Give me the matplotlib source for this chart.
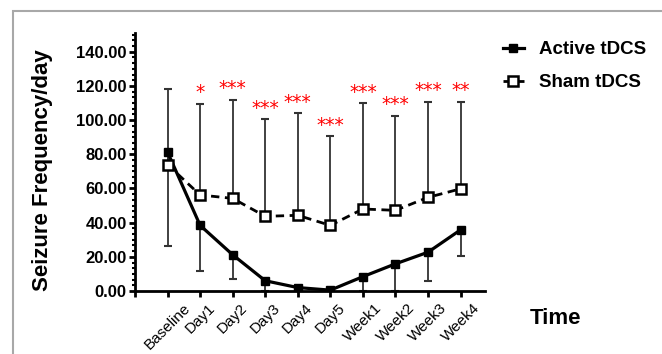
import matplotlib
matplotlib.use("Agg")
import matplotlib.pyplot as plt
from matplotlib.ticker import MultipleLocator, AutoMinorLocator, FormatStrFormatter
from matplotlib.patches import Rectangle

# data
labels = ["Baseline", "Day1", "Day2", "Day3", "Day4", "Day5",
          "Week1", "Week2", "Week3", "Week4"]
active = [81.3, 38.4, 21.2, 6.0, 2.0, 0.5, 8.4, 15.9, 22.7, 35.8]
active_err_low = [54.7, 26.5, 14.2, 6.0, 2.0, 0.5, 8.4, 15.9, 16.8, 15.1]
sham = [74.0, 56.2, 54.2, 43.7, 44.3, 38.4, 48.0, 47.2, 54.8, 59.8]
sham_err_up = [44.5, 53.5, 57.6, 56.8, 59.7, 52.1, 61.9, 55.2, 56.0, 50.8]
stars = ["", "*", "***", "***", "***", "***", "***", "***", "***", "**"]

x = list(range(len(labels)))

plt.rcParams['font.family'] = ['Liberation Sans', 'DejaVu Sans']

fig = plt.figure(figsize=(6.62, 3.54), dpi=100)
ax = fig.add_axes([135 / 662, 1 - 291 / 354, 350 / 662, 258 / 354])

# grey frame around the panel
fig.patches.append(Rectangle((13 / 662, -0.1), 1.0, 1.1 - 11 / 354,
                             transform=fig.transFigure, fill=False,
                             edgecolor="#a8a8a8", linewidth=1.5))

ecol = "#333333"
ax.errorbar(x, active, yerr=[active_err_low, [0] * len(x)], fmt="none",
            ecolor=ecol, elinewidth=1.3, capsize=3, capthick=1.5, zorder=1)
ax.errorbar(x, sham, yerr=[[0] * len(x), sham_err_up], fmt="none",
            ecolor=ecol, elinewidth=1.3, capsize=3, capthick=1.5, zorder=1)

l1, = ax.plot(x, active, "-", color="black", lw=2.3, marker="s",
              markersize=6, markerfacecolor="black", zorder=3)
l2, = ax.plot(x, sham, "--", color="black", lw=2.0, marker="s",
              markersize=6.5, markerfacecolor="white", markeredgewidth=1.8,
              dashes=(3, 2), zorder=3)

for xi, s, m, e in zip(x, stars, sham, sham_err_up):
    if s:
        ax.text(xi, m + e + 1.0, s, color="red", ha="center", va="bottom",
                fontsize=13.5, family="DejaVu Sans")

ax.set_xlim(-1, 9.75)
ax.set_ylim(0, 151)
ax.set_xticks([-1] + x)
ax.set_xticklabels([""] + labels, rotation=45, ha="center", va="top")
ax.yaxis.set_major_locator(MultipleLocator(20))
ax.yaxis.set_minor_locator(AutoMinorLocator(6))
ax.yaxis.set_major_formatter(FormatStrFormatter("%.2f"))

for side in ["top", "right"]:
    ax.spines[side].set_visible(False)
for side in ["left", "bottom"]:
    ax.spines[side].set_linewidth(2)

ax.tick_params(axis="y", which="major", length=4, width=2, labelsize=12,
               pad=2)
ax.tick_params(axis="y", which="minor", length=2.5, width=1.5)
ax.tick_params(axis="x", length=4, width=2, labelsize=11, pad=3)
for t in ax.get_yticklabels():
    t.set_fontweight("bold")

ax.set_ylabel("Seizure Frequency/day", fontsize=16, fontweight="bold")
ax.yaxis.set_label_coords(-0.234, 0.469)
fig.text(555 / 662, 1 - 318 / 354, "Time", fontsize=16, fontweight="bold",
         ha="center", va="center")

fig.legend([l1, l2], ["Active tDCS", "Sham tDCS"], loc="upper left",
           bbox_to_anchor=(503 / 662, 1 - 41 / 354), frameon=False,
           borderpad=0, borderaxespad=0,
           prop={"weight": "bold", "size": 13.5}, handlelength=1.1,
           labelspacing=0.85, handletextpad=0.8)

fig.savefig("out.png", dpi=100)
